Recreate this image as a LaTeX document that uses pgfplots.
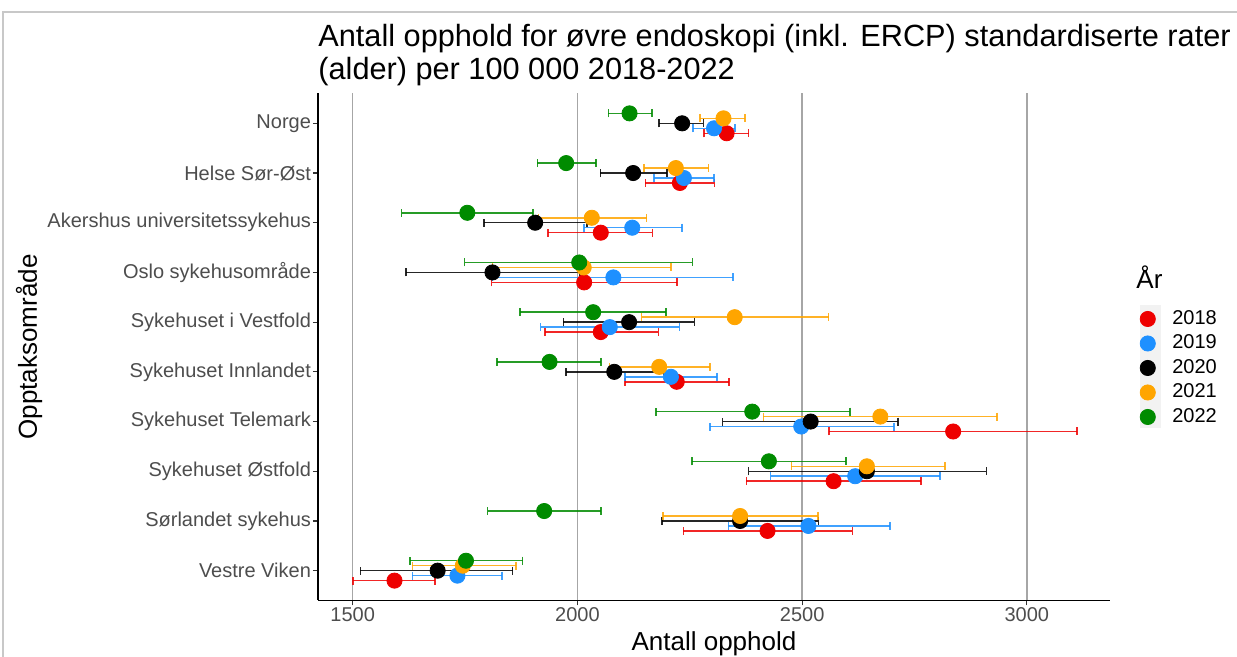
\documentclass[border=0pt]{standalone}
\usepackage{fontspec}
\setmainfont{Liberation Sans}
\usepackage{pgfplots}
\pgfplotsset{compat=1.18}
\usepackage{pgfplotstable}

\definecolor{c18}{HTML}{EE0000}
\definecolor{c19}{HTML}{1E90FF}
\definecolor{c20}{HTML}{000000}
\definecolor{c21}{HTML}{FFA500}
\definecolor{c22}{HTML}{008B00}
\definecolor{gridc}{HTML}{A6A6A6}
\definecolor{tickc}{HTML}{4D4D4D}
\definecolor{legbg}{HTML}{F2F2F2}
\definecolor{framec}{HTML}{C8C8C8}

% columns: y position (category + dodge), value, lower, upper
\pgfplotstableread{
y x lo hi
1.2 2332 2282 2381
2.2 2228 2151 2305
3.2 2052 1935 2167
4.2 2015 1809 2222
5.2 2052 1928 2180
6.2 2221 2106 2337
7.2 2836 2560 3111
8.2 2570 2376 2765
9.2 2423 2236 2612
10.2 1593 1501 1683
}\tA
\pgfplotstableread{
y x lo hi
1.1 2304 2257 2351
2.1 2237 2170 2304
3.1 2122 2015 2233
4.1 2080 1811 2346
5.1 2072 1918 2227
6.1 2208 2106 2311
7.1 2498 2295 2704
8.1 2618 2430 2807
9.1 2514 2336 2696
10.1 1733 1633 1832
}\tB
\pgfplotstableread{
y x lo hi
1.0 2233 2182 2280
2.0 2124 2051 2199
3.0 1906 1792 2021
4.0 1811 1619 2006
5.0 2115 1969 2260
6.0 2082 1975 2191
7.0 2519 2323 2713
8.0 2644 2381 2910
9.0 2362 2188 2536
10.0 1689 1517 1856
}\tC
\pgfplotstableread{
y x lo hi
0.9 2325 2273 2373
1.9 2219 2148 2292
2.9 2032 1913 2154
3.9 2014 1811 2208
4.9 2350 2143 2559
5.9 2182 2071 2295
6.9 2674 2414 2934
7.9 2644 2476 2818
8.9 2362 2190 2535
9.9 1745 1633 1863
}\tD
\pgfplotstableread{
y x lo hi
0.8 2116 2069 2166
1.8 1975 1911 2041
2.8 1755 1609 1901
3.8 2004 1749 2256
4.8 2035 1872 2197
5.8 1938 1821 2053
6.8 2389 2175 2606
7.8 2426 2255 2598
8.8 1926 1800 2053
9.8 1752 1628 1878
}\tE

\pgfplotsset{
  ebar/.style={forget plot, only marks, mark=none,
    error bars/.cd, x dir=both, x explicit,
    error bar style={line width=0.75pt, color=#1, opacity=0.85},
    error mark=|,
    error mark options={line width=0.75pt, color=#1, mark size=2pt, opacity=0.85}},
  pts/.style={only marks, mark=*, mark size=3.8pt, mark options={draw=#1, fill=#1}, color=#1},
}

\begin{document}
\begin{tikzpicture}
\useasboundingbox (0,0) rectangle (618.5pt,328.5pt);
\draw[framec, line width=0.6pt] (1.5pt,-5pt) |- (630pt,322.5pt);
\fill[legbg] (570pt,114.5pt) rectangle (580.5pt,176pt);
\node[anchor=base west, inner sep=0pt, font=\fontsize{15.35}{18}\selectfont] at (159pt,305pt)
  {Antall opphold for øvre endoskopi (inkl. ERCP) standardiserte rater};
\node[anchor=base west, inner sep=0pt, font=\fontsize{15.35}{18}\selectfont] at (159pt,288.5pt)
  {(alder) per 100 000 2018-2022};
\node[anchor=base west, inner sep=0pt, font=\fontsize{13}{15}\selectfont] at (568pt,184pt) {År};
\begin{axis}[
  scale only axis, width=396pt, height=253.5pt,
  at={(159pt,28.25pt)}, anchor=south west,
  xmin=1422.8, xmax=3185, ymin=0.4, ymax=10.6, y dir=reverse,
  axis x line*=bottom, axis y line*=left,
  axis line style={line width=0.8pt, black},
  xtick={1500,2000,2500,3000},
  ytick={1,2,3,4,5,6,7,8,9,10},
  yticklabels={Norge, Helse Sør-Øst, Akershus universitetssykehus, Oslo sykehusområde,
    Sykehuset i Vestfold, Sykehuset Innlandet, Sykehuset Telemark, Sykehuset Østfold,
    Sørlandet sykehus, Vestre Viken},
  tick align=outside, major tick length=2.5pt,
  tick style={line width=0.6pt, color=black!80},
  xmajorgrids, major grid style={line width=0.8pt, color=gridc},
  /pgf/number format/assume math mode=true, /pgf/number format/1000 sep={},
  ticklabel style={font=\fontsize{10}{12}\selectfont, text=tickc},
  yticklabel style={xshift=2.5pt},
  xticklabel style={yshift=2.5pt},
  xlabel={Antall opphold}, ylabel={Opptaksområde},
  label style={font=\fontsize{13}{15}\selectfont},
  x label style={at={(axis description cs:0.5,0)}, anchor=base, yshift=-25.25pt},
  y label style={at={(axis description cs:-0.3548,0.5)}, anchor=base},
  legend style={at={(axis description cs:1.03,0.587)}, anchor=north west, draw=none, fill=none,
    font=\fontsize{10}{12}\selectfont, row sep=0.55pt,
    nodes={inner sep=1pt, text height=7.5pt, text depth=2.2pt},
    /tikz/every odd column/.append style={column sep=7.5pt}},
  legend cell align=left,
]
\addplot[ebar=c18] table[x=x, y=y, x error plus expr=\thisrow{hi}-\thisrow{x}, x error minus expr=\thisrow{x}-\thisrow{lo}] {\tA};
\addplot[ebar=c19] table[x=x, y=y, x error plus expr=\thisrow{hi}-\thisrow{x}, x error minus expr=\thisrow{x}-\thisrow{lo}] {\tB};
\addplot[ebar=c20] table[x=x, y=y, x error plus expr=\thisrow{hi}-\thisrow{x}, x error minus expr=\thisrow{x}-\thisrow{lo}] {\tC};
\addplot[ebar=c21] table[x=x, y=y, x error plus expr=\thisrow{hi}-\thisrow{x}, x error minus expr=\thisrow{x}-\thisrow{lo}] {\tD};
\addplot[ebar=c22] table[x=x, y=y, x error plus expr=\thisrow{hi}-\thisrow{x}, x error minus expr=\thisrow{x}-\thisrow{lo}] {\tE};
\addplot[pts=c18] table[x=x, y=y] {\tA}; \addlegendentry{2018}
\addplot[pts=c19] table[x=x, y=y] {\tB}; \addlegendentry{2019}
\addplot[pts=c20] table[x=x, y=y] {\tC}; \addlegendentry{2020}
\addplot[pts=c21] table[x=x, y=y] {\tD}; \addlegendentry{2021}
\addplot[pts=c22] table[x=x, y=y] {\tE}; \addlegendentry{2022}
\end{axis}
\end{tikzpicture}
\end{document}
